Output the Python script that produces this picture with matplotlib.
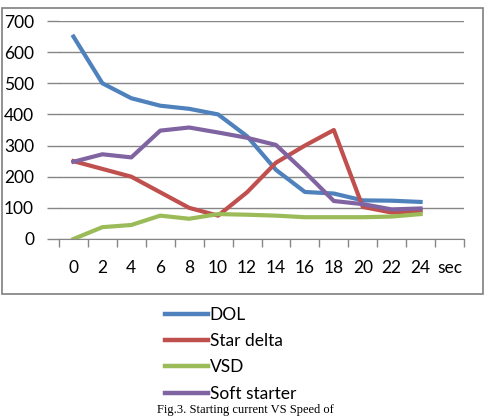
import matplotlib
matplotlib.use("Agg")
import matplotlib.pyplot as plt
from matplotlib.lines import Line2D
from matplotlib.patches import Rectangle

# category axis: 0..24 sec, plus the trailing "sec" label slot
x_labels = ["0", "2", "4", "6", "8", "10", "12", "14", "16", "18", "20", "22", "24", "sec"]
dol = [650, 500, 452, 428, 418, 400, 330, 222, 151, 146, 124, 123, 119]
star_delta = [250, 225, 200, 150, 100, 75, 150, 245, 300, 350, 103, 85, 90]
vsd = [0, 38, 45, 75, 65, 80, 78, 75, 70, 70, 70, 72, 80]
soft_starter = [248, 272, 262, 348, 358, 342, 325, 302, 215, 122, 112, 95, 98]

series = [
    ("DOL", dol, "#4F81BD"),
    ("Star delta", star_delta, "#C0504D"),
    ("VSD", vsd, "#9BBB59"),
    ("Soft starter", soft_starter, "#8064A2"),
]

plt.rcParams["font.family"] = ["Lato", "DejaVu Sans"]

W, H = 490, 416
fig = plt.figure(figsize=(W / 100, H / 100), dpi=100)

# chart border
fig.patches.append(Rectangle((2 / W, 1 - 294 / H), 481 / W, 286 / H,
                             transform=fig.transFigure, fill=False,
                             edgecolor="#7f7f7f", linewidth=1.2))

ax = fig.add_axes([59 / W, 1 - 239 / H, 405 / W, 218 / H])
idx = list(range(len(dol)))
for name, vals, col in series:
    ax.plot(idx, vals, color=col, linewidth=3, solid_joinstyle="round")

ax.set_xlim(-0.5, len(x_labels) - 0.5)
ax.set_ylim(0, 700)
ax.set_yticks(range(0, 701, 100))
ax.set_xticks(range(len(x_labels)))
ax.set_xticklabels(x_labels)
ax.set_xticks([i - 0.5 for i in range(len(x_labels) + 1)], minor=True)
ax.tick_params(axis="x", which="major", length=0, pad=15, labelsize=12.5)
ax.tick_params(axis="x", which="minor", length=6, color="#868686", width=1, direction="out")
ax.tick_params(axis="y", length=9, color="#868686", width=1, pad=9, labelsize=12.5)
ax.yaxis.grid(True, color="#868686", linewidth=1)
ax.set_axisbelow(True)
for s in ["top", "right", "left"]:
    ax.spines[s].set_visible(False)
ax.spines["bottom"].set_color("#868686")

handles = [Line2D([], [], color=c, linewidth=3.2) for _, _, c in series]
fig.legend(handles, [n for n, _, _ in series], loc="upper left",
           bbox_to_anchor=(149 / W, 1 - 291 / H), frameon=False,
           fontsize=12.5, handlelength=2.5, handletextpad=0.1,
           labelspacing=0.6)

fig.text(0.5, 1 - 410 / H, "Fig.3. Starting current VS Speed of", ha="center",
         va="center", fontsize=9, family="Liberation Serif")

fig.savefig("out.png", dpi=100)
